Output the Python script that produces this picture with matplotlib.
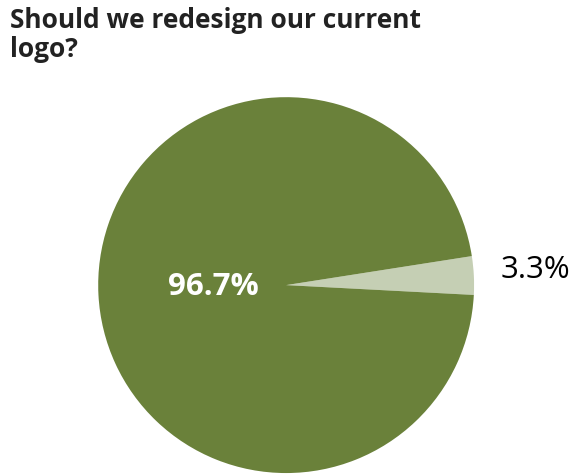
import matplotlib
matplotlib.use("Agg")
import matplotlib.pyplot as plt
import numpy as np

labels = ["Yes", "No"]
values = [3.3, 96.7]
colors = ["#c5cfb4", "#6a813a"]
pct_text = ["3.3%", "96.7%"]

fig = plt.figure(figsize=(5.74, 4.74), dpi=100)
ax = fig.add_axes([0.171, 0.002, 0.655, 0.793])
wedges, _ = ax.pie(values, colors=colors, startangle=-3, counterclock=True,
                   wedgeprops=dict(linewidth=0))
ax.set_xlim(-1, 1)
ax.set_ylim(-1, 1)
ax.set_aspect("equal")
dists = [1.33, 0.39]
tcolors = ["black", "white"]
for w, t, d, c in zip(wedges, pct_text, dists, tcolors):
    ang = np.deg2rad((w.theta1 + w.theta2) / 2)
    ax.text(d * np.cos(ang), d * np.sin(ang) + 0.01, t, ha="center", va="center",
            fontsize=22.5, color=c, family="Open Sans",
            fontweight="bold" if c == "white" else "normal", clip_on=False)
fig.text(0.017, 0.985, "Should we redesign our current\nlogo?", ha="left", va="top",
         fontsize=19, fontweight="bold", family="Open Sans", color="#222222",
         linespacing=1.1)
fig.savefig("out.png", dpi=100)
